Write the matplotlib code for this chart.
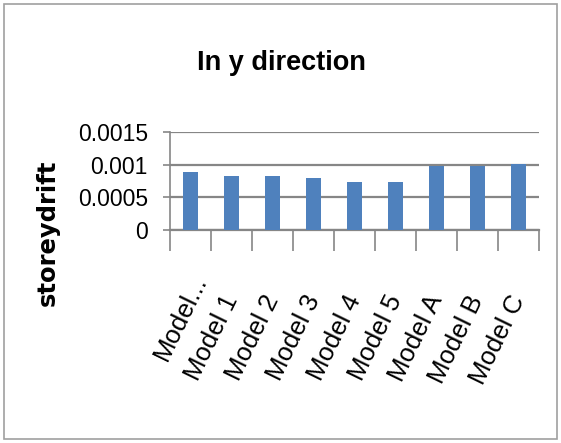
import numpy as np
import matplotlib
matplotlib.use("Agg")
import matplotlib.pyplot as plt
from matplotlib import transforms

# storey drift per model, y direction
models = ["Model...", "Model 1", "Model 2", "Model 3", "Model 4", "Model 5",
          "Model A", "Model B", "Model C"]
drift_y = [0.00088, 0.00083, 0.00083, 0.00079, 0.00074, 0.00074,
           0.00098, 0.00098, 0.00101]
y_ticks = [0, 0.0005, 0.001, 0.0015]
y_tick_labels = ["0", "0.0005", "0.001", "0.0015"]

label_font = "Liberation Sans"
grid_grey = "#868686"

fig = plt.figure(figsize=(5.61, 4.43), dpi=100)
fig.patches.append(plt.Rectangle((0.007, 0.01), 0.985, 0.98, transform=fig.transFigure,
                                 fill=False, edgecolor="#a0a0a0", linewidth=1.2))

ax = fig.add_axes([0.303, 0.481, 0.658, 0.221])
x = np.arange(len(models))
ax.bar(x, drift_y, width=0.35, color="#4F81BD", zorder=3)

ax.set_xlim(-0.5, len(models) - 0.5)
ax.set_ylim(0, 0.0015)
ax.set_yticks(y_ticks)
ax.set_yticklabels(y_tick_labels, fontsize=16.5, family=label_font)
ax.yaxis.grid(True, color=grid_grey, linewidth=1.6, zorder=0)
ax.tick_params(axis="y", length=5, width=1.2, color=grid_grey, pad=11)

# labels under bar centres, tick marks on category boundaries
ax.set_xticks(x)
ax.set_xticklabels(models, rotation=64, ha="right", rotation_mode="anchor",
                   va="center", fontsize=18.5, family=label_font)
ax.tick_params(axis="x", which="major", length=0, pad=48)
ax.set_xticks(np.arange(len(models) + 1) - 0.5, minor=True)
ax.tick_params(axis="x", which="minor", length=15, width=1.2, color=grid_grey)

# truncated first label sits a little higher
first = ax.get_xticklabels()[0]
first.set_transform(first.get_transform() +
                    transforms.ScaledTranslation(0.1, 0.2, fig.dpi_scale_trans))

for s in ["top", "right"]:
    ax.spines[s].set_visible(False)
ax.spines["bottom"].set_color(grid_grey)
ax.spines["bottom"].set_linewidth(1.6)
ax.spines["left"].set_color(grid_grey)
ax.spines["left"].set_linewidth(1.2)

fig.text(0.502, 0.858, "In y direction", ha="center", va="center",
         fontsize=19.5, fontweight="bold", family=label_font)
fig.text(0.086, 0.474, "storeydrift", rotation=90, ha="center", va="center",
         fontsize=17.5, fontweight="bold", family="DejaVu Sans")

fig.savefig("out.png", dpi=100)
